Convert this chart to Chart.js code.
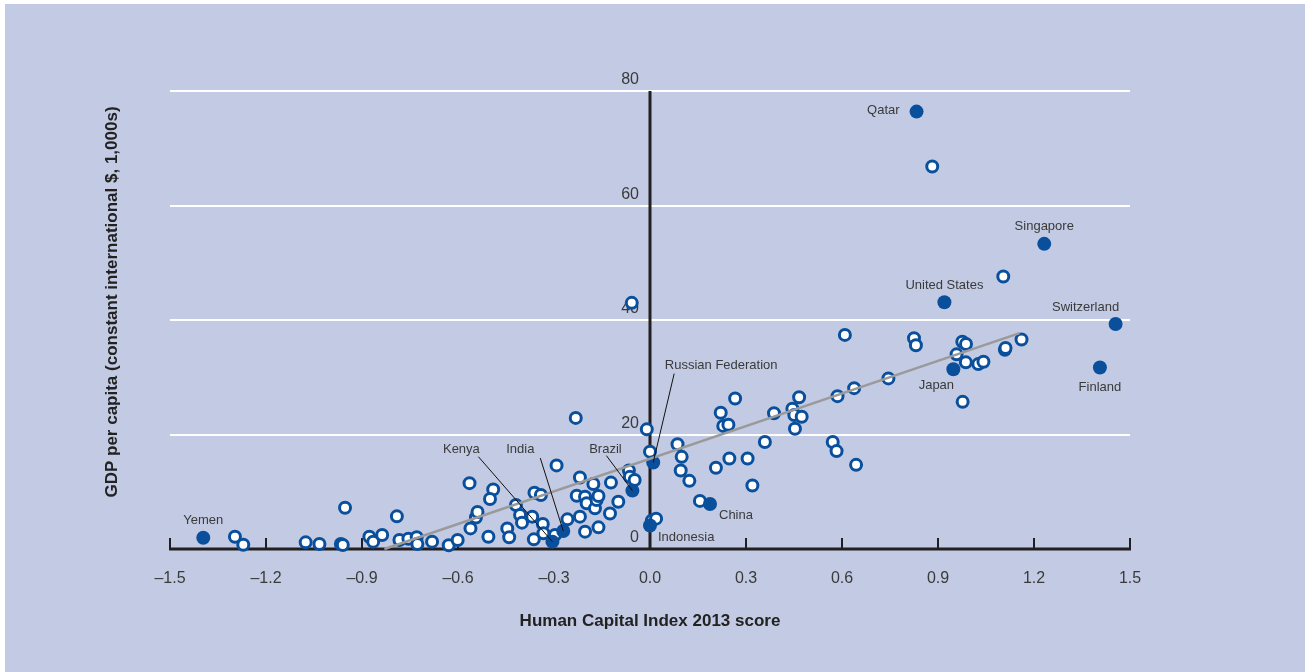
<!DOCTYPE html>
<html>
<head>
<meta charset="utf-8">
<script src="https://cdn.jsdelivr.net/npm/chart.js@4.4.1/dist/chart.umd.min.js"></script>
<style>
  body { margin: 0; background: #ffffff; }
  #panel { position: absolute; left: 5px; top: 4px; width: 1300px; height: 668px; background: #c3cbe4; }
  #chart { position: absolute; left: 0; top: 0; }
</style>
</head>
<body>
<div id="panel"></div>
<canvas id="chart" width="1311" height="672"></canvas>
<script>
// Paises sin etiqueta (circulos abiertos)
const otherX = [
  -1.297, -1.271, -1.076, -1.033, -0.966, -0.960, -0.953, -0.877, -0.865, -0.837,
  -0.791, -0.783, -0.755, -0.729, -0.727, -0.681, -0.629, -0.601, -0.564, -0.561,
  -0.544, -0.539, -0.505, -0.490, -0.500, -0.446, -0.440, -0.419, -0.406, -0.400,
  -0.368, -0.361, -0.341, -0.335, -0.363, -0.333, -0.297, -0.292, -0.258, -0.232,
  -0.229, -0.219, -0.219, -0.203, -0.203, -0.198, -0.177, -0.172, -0.167, -0.161,
  -0.161, -0.125, -0.122, -0.099, -0.066, -0.063, -0.057, -0.048, -0.010, 0.000,
  0.006, 0.019, 0.086, 0.099, 0.096, 0.123, 0.156, 0.206, 0.221, 0.229,
  0.245, 0.248, 0.266, 0.305, 0.320, 0.359, 0.3875, 0.445, 0.451, 0.453,
  0.466, 0.474, 0.571, 0.583, 0.586, 0.609, 0.638, 0.644, 0.745, 0.825,
  0.831, 0.882, 0.958, 0.976, 0.977, 0.987, 0.9875, 1.026, 1.042, 1.104,
  1.109, 1.111, 1.161
];
const otherY = [
  2.15, 0.75, 1.16, 0.87, 0.87, 0.7, 7.2, 2.15, 1.28, 2.45,
  5.7, 1.57, 1.8, 2.04, 0.87, 1.28, 0.65, 1.57, 11.5, 3.6,
  5.5, 6.46, 2.15, 10.4, 8.73, 3.6, 2.04, 7.69, 5.94, 4.6,
  5.65, 9.83, 9.43, 4.37, 1.69, 2.74, 2.45, 14.6, 5.18, 22.9,
  9.3, 12.5, 5.65, 9.14, 3.03, 7.98, 11.35, 7.1, 8.56, 9.26,
  3.78, 6.2, 11.6, 8.26, 13.7, 12.6, 43.0, 12.05, 20.9, 17.0,
  5.0, 5.3, 18.3, 16.1, 13.7, 11.9, 8.4, 14.2, 23.8, 21.5,
  21.7, 15.8, 26.3, 15.8, 11.1, 18.7, 23.7, 24.5, 23.4, 21.0,
  26.5, 23.1, 18.7, 17.1, 26.7, 37.4, 28.1, 14.7, 29.8, 36.8,
  35.6, 66.8, 34.0, 36.2, 25.7, 32.6, 35.8, 32.3, 32.7, 47.6,
  34.8, 35.1, 36.6
];

// Paises destacados (circulos rellenos con etiqueta)
const namedCountries = ["Yemen", "Kenya", "India", "Brazil", "Indonesia", "Russian Federation",
  "China", "Japan", "United States", "Qatar", "Singapore", "Finland", "Switzerland"];
const namedX = [-1.396, -0.305, -0.271, -0.055, 0.0, 0.010, 0.1875, 0.948, 0.920, 0.833, 1.232, 1.406, 1.455];
const namedY = [1.97, 1.28, 3.14, 10.2, 4.1, 15.1, 7.86, 31.4, 43.1, 76.4, 53.3, 31.7, 39.3];

// Linea de tendencia
const trendX = [-0.83, 1.155];
const trendY = [0, 37.7];

const xTicks = [-1.5, -1.2, -0.9, -0.6, -0.3, 0, 0.3, 0.6, 0.9, 1.2, 1.5];
const yTicks = [0, 20, 40, 60, 80];

const xTitle = "Human Capital Index 2013 score";
const yTitle = "GDP per capita (constant international $, 1,000s)";

// Posicion de etiquetas (desplazamiento en pixeles respecto al punto)
const labelPos = {
  "Yemen": { dx: 0, dy: -17, align: "center" },
  "Kenya": { dx: -91, dy: -92, align: "center", lx: -74, ly: -85 },
  "India": { dx: -43, dy: -82, align: "center", lx: -23, ly: -73 },
  "Brazil": { dx: -27, dy: -41, align: "center", lx: -26, ly: -35 },
  "Indonesia": { dx: 8, dy: 12, align: "left" },
  "Russian Federation": { dx: 68, dy: -97, align: "center", lx: 21, ly: -89 },
  "China": { dx: 9, dy: 11, align: "left" },
  "Japan": { dx: -17, dy: 16, align: "center" },
  "United States": { dx: 0, dy: -17, align: "center" },
  "Qatar": { dx: -17, dy: -1, align: "right" },
  "Singapore": { dx: 0, dy: -17, align: "center" },
  "Finland": { dx: 0, dy: 20, align: "center" },
  "Switzerland": { dx: -30, dy: -17, align: "center" }
};

const FONT = '"Liberation Sans Narrow", "Arial Narrow", "Liberation Sans", sans-serif';
const BLUE = "#0a4f9c";
const TEXT = "#3a3a3a";

function toPoints(xs, ys) {
  return xs.map((x, i) => ({ x: x, y: ys[i] }));
}

function fmtTick(v) {
  if (Math.abs(v) < 1e-9) return "0.0";
  return (v < 0 ? "\u2013" : "") + Math.abs(v).toFixed(1);
}

const axesPlugin = {
  id: "axesPlugin",
  beforeDatasetsDraw(chart) {
    const ctx = chart.ctx;
    const xs = chart.scales.x;
    const ys = chart.scales.y;
    const y0 = ys.getPixelForValue(0);
    ctx.save();
    ctx.strokeStyle = "#231f20";
    // eje x
    ctx.lineWidth = 3;
    ctx.beginPath();
    ctx.moveTo(xs.getPixelForValue(xTicks[0]) - 1, y0);
    ctx.lineTo(xs.getPixelForValue(xTicks[xTicks.length - 1]) + 1, y0);
    ctx.stroke();
    ctx.lineWidth = 2;
    xTicks.forEach(function (t) {
      const px = Math.round(xs.getPixelForValue(t));
      ctx.beginPath();
      ctx.moveTo(px, y0);
      ctx.lineTo(px, y0 - 11);
      ctx.stroke();
    });
    // eje y en x = 0
    ctx.lineWidth = 3;
    const x0 = xs.getPixelForValue(0);
    ctx.beginPath();
    ctx.moveTo(x0, y0);
    ctx.lineTo(x0, ys.getPixelForValue(yTicks[yTicks.length - 1]));
    ctx.stroke();
    // etiquetas del eje y
    ctx.fillStyle = TEXT;
    ctx.font = "16px " + FONT;
    ctx.textAlign = "right";
    ctx.textBaseline = "middle";
    yTicks.forEach(function (t) {
      ctx.fillText(String(t), x0 - 11, ys.getPixelForValue(t) - 11);
    });
    ctx.restore();
  },
  afterDatasetsDraw(chart) {
    const ctx = chart.ctx;
    const xs = chart.scales.x;
    const ys = chart.scales.y;
    ctx.save();
    ctx.font = "13px " + FONT;
    ctx.textBaseline = "middle";
    namedCountries.forEach(function (name, i) {
      const p = labelPos[name];
      const px = xs.getPixelForValue(namedX[i]);
      const py = ys.getPixelForValue(namedY[i]);
      if (p.lx !== undefined) {
        ctx.strokeStyle = "#111111";
        ctx.lineWidth = 1;
        ctx.beginPath();
        ctx.moveTo(px + p.lx, py + p.ly);
        ctx.lineTo(px, py);
        ctx.stroke();
      }
      ctx.fillStyle = TEXT;
      ctx.textAlign = p.align;
      ctx.fillText(name, px + p.dx, py + p.dy);
    });
    // titulo del eje y
    ctx.translate(112, 302);
    ctx.rotate(-Math.PI / 2);
    ctx.fillStyle = "#222222";
    ctx.font = "bold 17px " + FONT;
    ctx.textAlign = "center";
    ctx.fillText(yTitle, 0, 0);
    ctx.restore();
  }
};

const ctx = document.getElementById("chart").getContext("2d");
new Chart(ctx, {
  type: "scatter",
  data: {
    datasets: [
      {
        type: "line",
        label: "Tendencia",
        data: toPoints(trendX, trendY),
        borderColor: "#9a9a9a",
        borderWidth: 2.5,
        pointRadius: 0,
        fill: false,
        order: 0,
        clip: false
      },
      {
        label: "Destacados",
        data: toPoints(namedX, namedY),
        backgroundColor: BLUE,
        borderColor: BLUE,
        borderWidth: 0,
        pointRadius: 7,
        order: 1,
        clip: false
      },
      {
        label: "Otros",
        data: toPoints(otherX, otherY),
        backgroundColor: "#ffffff",
        borderColor: BLUE,
        borderWidth: 3,
        pointRadius: 5.5,
        order: 2,
        clip: false
      }
    ]
  },
  options: {
    responsive: false,
    devicePixelRatio: 1,
    animation: false,
    layout: { padding: { top: 91, right: 181, left: 0, bottom: 0 } },
    plugins: {
      legend: { display: false },
      tooltip: { enabled: false }
    },
    scales: {
      x: {
        type: "linear",
        min: -1.5,
        max: 1.5,
        afterFit: function (scale) { scale.height = 123; },
        afterBuildTicks: function (scale) { scale.ticks = xTicks.map(v => ({ value: v })); },
        grid: { display: false, drawTicks: false },
        border: { display: false },
        ticks: {
          padding: 20,
          color: TEXT,
          font: { family: FONT, size: 16 },
          callback: function (v) { return fmtTick(v); }
        },
        title: {
          display: true,
          text: xTitle,
          color: "#222222",
          font: { family: FONT, size: 17, weight: "bold" },
          padding: { top: 0, bottom: 40 }
        }
      },
      y: {
        type: "linear",
        min: 0,
        max: 80,
        afterFit: function (scale) { scale.width = 170; },
        afterBuildTicks: function (scale) { scale.ticks = yTicks.map(v => ({ value: v })); },
        grid: {
          drawTicks: false,
          lineWidth: 2,
          color: function (c) { return c.tick && c.tick.value === 0 ? "rgba(0,0,0,0)" : "#ffffff"; }
        },
        border: { display: false },
        ticks: { display: false },
        title: { display: false }
      }
    }
  },
  plugins: [axesPlugin]
});
</script>
</body>
</html>
